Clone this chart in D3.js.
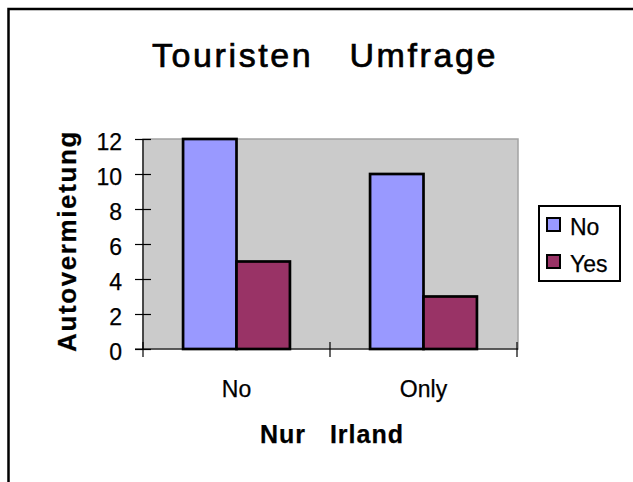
<!DOCTYPE html>
<html>
<head>
<meta charset="utf-8">
<title>Touristen Umfrage</title>
<script src="https://d3js.org/d3.v7.min.js"></script>
<style>
	body { margin: 0; background: #fff; }
	text { font-family: "Liberation Sans", Arial, Helvetica, sans-serif; fill: #000; stroke: #000; stroke-width: 0.25; }
	.axis path { display: none; }
	.axis line { stroke: #000; stroke-width: 1.2; }
	.axis text { font-size: 23px; }
</style>
</head>
<body>
<script>
	var categories = ["No", "Only"];
	var series = ["No", "Yes"];
	var valuesNo = [12, 10];
	var valuesYes = [5, 3];
	var yTicks = [0, 2, 4, 6, 8, 10, 12];
	var colors = ["#9999ff", "#993366"];

	var width = 633, height = 482;
	var plot = {left: 143, right: 518, top: 139, bottom: 349};

	var svg = d3.select("body").append("svg")
		.attr("width", width)
		.attr("height", height);

	// chart frame (only top and left edge visible)
	svg.append("rect")
		.attr("x", 8.5).attr("y", 9)
		.attr("width", 700).attr("height", 600)
		.attr("fill", "#fff")
		.attr("stroke", "#000")
		.attr("stroke-width", 2.5);

	var x = d3.scaleBand()
		.domain(categories)
		.range([plot.left, plot.right - 1]);
	var xs = d3.scaleBand()
		.domain(series)
		.range([0, x.bandwidth()])
		.paddingOuter(0.75);
	var y = d3.scaleLinear()
		.domain([0, 12])
		.range([plot.bottom, plot.top]);

	// plot area
	svg.append("rect")
		.attr("x", plot.left).attr("y", plot.top)
		.attr("width", plot.right - plot.left)
		.attr("height", plot.bottom - plot.top)
		.attr("fill", "#cbcbcb")
		.attr("stroke", "#a3a3a3")
		.attr("stroke-width", 1.5);

	// bars
	var rows = categories.map(function(c, i){
		return {cat: c, vals: [valuesNo[i], valuesYes[i]]};
	});
	var groups = svg.selectAll(".grp")
		.data(rows)
		.enter().append("g")
		.attr("class", "grp")
		.attr("transform", function(d){ return "translate(" + x(d.cat) + ",0)"; });
	groups.selectAll("rect")
		.data(function(d){ return d.vals.map(function(v, j){ return {s: series[j], v: v, j: j}; }); })
		.enter().append("rect")
		.attr("x", function(d){ return xs(d.s); })
		.attr("y", function(d){ return y(d.v); })
		.attr("width", xs.bandwidth())
		.attr("height", function(d){ return y(0) - y(d.v); })
		.attr("fill", function(d){ return colors[d.j]; })
		.attr("stroke", "#000")
		.attr("stroke-width", 2.7);

	// y axis
	var yAxis = svg.append("g")
		.attr("class", "axis")
		.attr("transform", "translate(" + plot.left + ",0)")
		.call(d3.axisLeft(y).tickValues(yTicks).tickSize(8));
	yAxis.selectAll("line").attr("x1", 8).attr("x2", -8);
	yAxis.selectAll("text").attr("x", -21).attr("dy", "0.45em");
	yAxis.append("line")
		.attr("x1", 0).attr("x2", 0)
		.attr("y1", plot.top).attr("y2", plot.bottom);

	// x axis
	var xAxis = svg.append("g")
		.attr("class", "axis")
		.attr("transform", "translate(0," + plot.bottom + ")")
		.call(d3.axisBottom(x).tickSize(0));
	xAxis.selectAll("text").attr("y", 48).attr("dy", 0).style("font-size", "23px");
	xAxis.append("line")
		.attr("x1", plot.left - 8).attr("x2", plot.right)
		.attr("y1", 0).attr("y2", 0);
	var bounds = categories.map(function(c){ return x(c); }).concat([x(categories[1]) + x.bandwidth()]);
	xAxis.selectAll(".bound")
		.data(bounds)
		.enter().append("line")
		.attr("class", "bound")
		.attr("x1", function(d){ return d; }).attr("x2", function(d){ return d; })
		.attr("y1", -7).attr("y2", 8);

	// titles
	svg.append("text")
		.attr("x", 325).attr("y", 67)
		.attr("text-anchor", "middle")
		.style("font-size", "34px")
		.style("letter-spacing", "2.6px")
		.style("stroke-width", "0.7")
		.style("white-space", "pre")
		.text("Touristen   Umfrage");

	svg.append("text")
		.attr("x", 332).attr("y", 443)
		.attr("text-anchor", "middle")
		.style("font-size", "25px")
		.style("font-weight", "bold")
		.style("letter-spacing", "1px")
		.style("white-space", "pre")
		.text("Nur   Irland");

	svg.append("text")
		.attr("transform", "translate(76,241) rotate(-90)")
		.attr("text-anchor", "middle")
		.style("font-size", "26px")
		.style("font-weight", "bold")
		.style("letter-spacing", "1.6px")
		.text("Autovermietung");

	// legend
	var legend = svg.append("g");
	legend.append("rect")
		.attr("x", 539).attr("y", 206)
		.attr("width", 81).attr("height", 75)
		.attr("fill", "#fff")
		.attr("stroke", "#000")
		.attr("stroke-width", 2);
	var items = legend.selectAll(".item")
		.data(series)
		.enter().append("g")
		.attr("class", "item")
		.attr("transform", function(d, i){ return "translate(547," + (218 + i * 37) + ")"; });
	items.append("rect")
		.attr("width", 13).attr("height", 13)
		.attr("fill", function(d, i){ return colors[i]; })
		.attr("stroke", "#000")
		.attr("stroke-width", 2);
	items.append("text")
		.attr("x", 23).attr("y", 17)
		.style("font-size", "23px")
		.text(function(d){ return d; });
</script>
</body>
</html>
